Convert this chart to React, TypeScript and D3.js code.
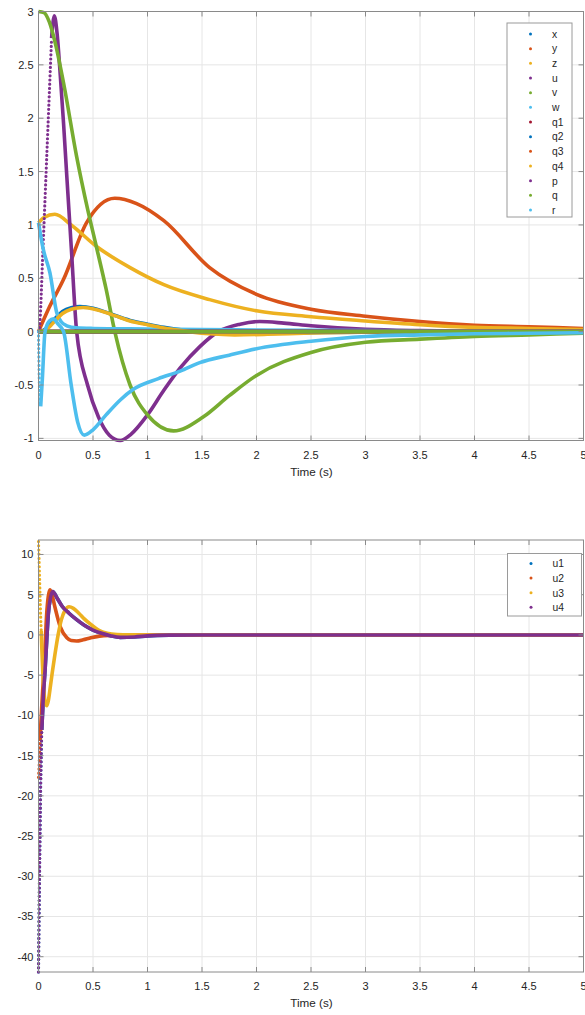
import * as d3 from "d3";

// ---------- tick values ----------
const timeTicks = [0, 0.5, 1, 1.5, 2, 2.5, 3, 3.5, 4, 4.5, 5];
const stateTicks = [-1, -0.5, 0, 0.5, 1, 1.5, 2, 2.5, 3];
const inputTicks = [-40, -35, -30, -25, -20, -15, -10, -5, 0, 5, 10];

// ---------- top panel: states ----------
const xT = [0, 0.05, 0.1, 0.15, 0.22, 0.3, 0.38, 0.5, 0.65, 0.84, 1.0, 1.15, 1.35, 1.57, 1.8, 2.2, 2.6, 3, 4, 5];
const xV = [0, 0.015, 0.06, 0.12, 0.19, 0.225, 0.235, 0.22, 0.17, 0.105, 0.07, 0.04, 0.01, -0.015, -0.02, -0.015, -0.008, -0.004, 0, 0];

const yT = [0, 0.1, 0.23, 0.44, 0.7, 0.9, 1.15, 1.57, 2, 2.5, 3, 3.5, 4, 4.5, 5];
const yV = [0, 0.23, 0.49, 1.02, 1.25, 1.2, 1.04, 0.6, 0.35, 0.21, 0.145, 0.095, 0.06, 0.045, 0.03];

const zT = [0, 0.05, 0.15, 0.3, 0.53, 0.84, 1.15, 1.57, 2, 2.5, 3, 3.5, 4, 4.5, 5];
const zV = [1.02, 1.07, 1.1, 1.0, 0.8, 0.6, 0.44, 0.3, 0.195, 0.14, 0.1, 0.065, 0.04, 0.03, 0.02];

const uT = [0, 0.01, 0.04, 0.08, 0.12, 0.145, 0.17, 0.2, 0.23, 0.26, 0.3, 0.35, 0.45, 0.55, 0.65, 0.75, 0.85, 1.0, 1.15, 1.3, 1.48, 1.65, 1.85, 2.03, 2.25, 2.5, 3, 3.5, 4, 5];
const uV = [0, 0.05, 0.75, 1.75, 2.75, 2.96, 2.8, 2.4, 1.95, 1.45, 0.8, 0.0, -0.5, -0.8, -0.97, -1.02, -0.96, -0.78, -0.55, -0.34, -0.14, 0.0, 0.07, 0.095, 0.08, 0.055, 0.022, 0.01, 0.005, 0];

const vT = [0, 0.05, 0.1, 0.15, 0.23, 0.35, 0.45, 0.53, 0.62, 0.7, 0.84, 1.0, 1.24, 1.51, 1.75, 2.0, 2.5, 3, 3.5, 4, 4.5, 5];
const vV = [3.0, 2.99, 2.9, 2.72, 2.33, 1.64, 1.15, 0.8, 0.4, 0, -0.5, -0.78, -0.93, -0.8, -0.6, -0.41, -0.195, -0.1, -0.07, -0.045, -0.03, -0.015];

const wT = [0, 0.044, 0.105, 0.167, 0.21, 0.26, 0.35, 0.5, 1, 1.5, 2, 3, 4, 5];
const wV = [1.02, 0.77, 0.55, 0.18, 0.09, 0.055, 0.035, 0.03, 0.025, 0.02, 0.015, 0.01, 0.005, 0];

const q1T = [0, 5];
const q1V = [0, 0];
const q2T = [0, 5];
const q2V = [0, 0];
const q3T = [0, 5];
const q3V = [0, 0];

const q4T = [0, 0.05, 0.1, 0.15, 0.22, 0.3, 0.41, 0.55, 0.7, 0.84, 1.0, 1.15, 1.35, 1.57, 1.8, 2.1, 2.5, 3, 4, 5];
const q4V = [0, 0.01, 0.045, 0.1, 0.17, 0.21, 0.226, 0.2, 0.15, 0.1, 0.065, 0.035, 0.005, -0.02, -0.03, -0.025, -0.012, -0.005, 0, 0];

const pT = [0, 5];
const pV = [0, 0];
const qT = [0, 5];
const qV = [0, 0];

const rT = [0, 0.005, 0.012, 0.02, 0.035, 0.06, 0.1, 0.136, 0.18, 0.23, 0.3, 0.36, 0.42, 0.5, 0.62, 0.75, 0.87, 1.1, 1.3, 1.48, 1.75, 2.0, 2.5, 3, 3.5, 4, 4.5, 5];
const rV = [0, -0.35, -0.6, -0.7, -0.45, 0, 0.1, 0.12, 0.07, 0, -0.5, -0.85, -0.97, -0.92, -0.78, -0.64, -0.54, -0.44, -0.37, -0.29, -0.22, -0.16, -0.09, -0.045, -0.03, -0.02, -0.015, -0.01];

// ---------- bottom panel: inputs ----------
const u1T = [0, 0.003, 0.006, 0.01, 0.015, 0.02, 0.025, 0.03, 0.045, 0.06, 0.075, 0.09, 0.11, 0.13, 0.17, 0.22, 0.28, 0.35, 0.42, 0.5, 0.58, 0.66, 0.75, 0.88, 1.0, 1.2, 1.5, 5];
const u1V = [-41.9, -38, -34, -29, -23.5, -18.5, -14.8, -11.8, -7.5, -4.4, -0.8, 2.6, 4.6, 5.4, 4.6, 3.5, 2.7, 1.9, 1.2, 0.6, 0.2, -0.1, -0.3, -0.25, -0.12, -0.03, 0, 0];

const u2T = [0, 0.005, 0.01, 0.015, 0.02, 0.03, 0.044, 0.06, 0.075, 0.09, 0.105, 0.12, 0.15, 0.2, 0.26, 0.3, 0.35, 0.41, 0.48, 0.56, 0.65, 0.8, 1.0, 5];
const u2V = [-17.7, -16.5, -14.5, -13, -11.5, -8.8, -5.6, -1.5, 2.6, 4.8, 5.6, 5.2, 3.5, 1.0, -0.35, -0.7, -0.75, -0.6, -0.35, -0.15, -0.05, 0, 0, 0];

const u3T = [0, 0.005, 0.01, 0.015, 0.02, 0.025, 0.03, 0.04, 0.05, 0.06, 0.075, 0.09, 0.105, 0.125, 0.15, 0.18, 0.21, 0.245, 0.28, 0.32, 0.37, 0.42, 0.48, 0.55, 0.63, 0.72, 0.85, 1.0, 1.5, 5];
const u3V = [11.6, 9.5, 7, 4.5, 2.2, 0.5, -1.5, -4.8, -7, -8.3, -8.8, -8.2, -6.8, -4.8, -2.5, 0, 1.9, 3.1, 3.5, 3.3, 2.7, 2.0, 1.3, 0.6, 0.2, 0.05, 0.01, 0, 0, 0];

const u4T = [0, 0.003, 0.006, 0.01, 0.015, 0.02, 0.025, 0.03, 0.045, 0.06, 0.075, 0.09, 0.11, 0.13, 0.17, 0.22, 0.28, 0.35, 0.42, 0.5, 0.58, 0.66, 0.75, 0.88, 1.0, 1.2, 1.5, 5];
const u4V = [-41.9, -38, -34, -29, -23.5, -18.5, -14.8, -11.8, -7.5, -4.4, -0.8, 2.6, 4.6, 5.4, 4.6, 3.5, 2.7, 1.9, 1.2, 0.6, 0.2, -0.1, -0.3, -0.25, -0.12, -0.03, 0, 0];

const C = {
  blue: "#0072BD",
  orange: "#D95319",
  yellow: "#EDB120",
  purple: "#7E2F8E",
  green: "#77AC30",
  cyan: "#4DBEEE",
  red: "#A2142F",
};

type Series = { name: string; color: string; t: number[]; v: number[]; dotTo?: number };

const stateSeries: Series[] = [
  { name: "x", color: C.blue, t: xT, v: xV },
  { name: "y", color: C.orange, t: yT, v: yV },
  { name: "z", color: C.yellow, t: zT, v: zV },
  { name: "u", color: C.purple, t: uT, v: uV, dotTo: 0.12 },
  { name: "v", color: C.green, t: vT, v: vV },
  { name: "w", color: C.cyan, t: wT, v: wV },
  { name: "q1", color: C.red, t: q1T, v: q1V },
  { name: "q2", color: C.blue, t: q2T, v: q2V },
  { name: "q3", color: C.orange, t: q3T, v: q3V },
  { name: "q4", color: C.yellow, t: q4T, v: q4V },
  { name: "p", color: C.purple, t: pT, v: pV },
  { name: "q", color: C.green, t: qT, v: qV },
  { name: "r", color: C.cyan, t: rT, v: rV, dotTo: 0.02 },
];

const inputSeries: Series[] = [
  { name: "u1", color: C.blue, t: u1T, v: u1V, dotTo: 0.03 },
  { name: "u2", color: C.orange, t: u2T, v: u2V, dotTo: 0.015 },
  { name: "u3", color: C.yellow, t: u3T, v: u3V, dotTo: 0.025 },
  { name: "u4", color: C.purple, t: u4T, v: u4V, dotTo: 0.03 },
];

const LEFT = 38.5;
const RIGHT = 583.5;
const AXIS = "#8a8a8a";
const GRID = "#e6e6e6";
const FONT = "'Liberation Sans', Arial, Helvetica, sans-serif";

function Panel({ top, bottom, domain, yTicks, series, legend }: {
  top: number; bottom: number; domain: [number, number]; yTicks: number[]; series: Series[];
  legend: { x0: number; x1: number; y0: number; y1: number; first: number; step: number };
}) {
  const x = d3.scaleLinear().domain([0, 5]).range([LEFT, RIGHT]);
  const y = d3.scaleLinear().domain(domain).range([bottom, top]);
  const line = d3.line<[number, number]>()
    .x((d) => x(d[0]))
    .y((d) => y(d[1]))
    .curve(d3.curveMonotoneX);

  return (
    <g>
      {/* grid */}
      {timeTicks.map((t) => (
        <line key={"gx" + t} x1={x(t)} x2={x(t)} y1={top} y2={bottom} stroke={GRID} />
      ))}
      {yTicks.map((v) => (
        <line key={"gy" + v} x1={LEFT} x2={RIGHT} y1={y(v)} y2={y(v)} stroke={GRID} />
      ))}

      {/* data: steep start drawn as separate dots, the rest looks solid */}
      {series.map((s) => {
        const pts = s.t.map((t, i) => [t, s.v[i]] as [number, number]);
        const cut = s.dotTo ?? -1;
        let k = 0;
        while (k + 1 < pts.length && pts[k + 1][0] <= cut) k++;
        const dotted = cut < 0 ? [] : pts.slice(0, k + 1);
        const solid = cut < 0 ? pts : pts.slice(k);
        return (
          <g key={s.name}>
            {dotted.length > 1 && (
              <path d={line(dotted) ?? ""} fill="none" stroke={s.color} strokeWidth={3.2}
                strokeLinecap="round" strokeDasharray="0 4.2" />
            )}
            <path d={line(solid) ?? ""} fill="none" stroke={s.color} strokeWidth={3.6}
              strokeLinejoin="round" />
          </g>
        );
      })}

      {/* box and ticks */}
      <rect x={LEFT} y={top} width={RIGHT - LEFT} height={bottom - top} fill="none" stroke={AXIS} strokeWidth={1} />
      {timeTicks.map((t) => (
        <g key={"tx" + t}>
          <line x1={x(t)} x2={x(t)} y1={bottom} y2={bottom - 5} stroke={AXIS} />
          <line x1={x(t)} x2={x(t)} y1={top} y2={top + 5} stroke={AXIS} />
          <text x={x(t)} y={bottom + 18} textAnchor="middle" fontSize={11} fill="#262626" fontFamily={FONT}>
            {String(t)}
          </text>
        </g>
      ))}
      {yTicks.map((v) => (
        <g key={"ty" + v}>
          <line x1={LEFT} x2={LEFT + 5} y1={y(v)} y2={y(v)} stroke={AXIS} />
          <line x1={RIGHT} x2={RIGHT - 5} y1={y(v)} y2={y(v)} stroke={AXIS} />
          <text x={33.5} y={y(v) + 4} textAnchor="end" fontSize={11} fill="#262626" fontFamily={FONT}>
            {String(v)}
          </text>
        </g>
      ))}
      <text x={(LEFT + RIGHT) / 2 + 0.5} y={bottom + 35} textAnchor="middle" fontSize={11.7} fill="#262626" fontFamily={FONT}>
        Time (s)
      </text>

      {/* legend */}
      <rect x={legend.x0} y={legend.y0} width={legend.x1 - legend.x0} height={legend.y1 - legend.y0}
        fill="#fff" stroke="#9a9a9a" strokeWidth={1} />
      {series.map((s, i) => {
        const cy = legend.first + i * legend.step;
        return (
          <g key={"lg" + s.name}>
            <circle cx={legend.x0 + 23.5} cy={cy} r={1.5} fill={s.color} />
            <text x={legend.x0 + 45} y={cy + 3.8} fontSize={10.3} fill="#262626" fontFamily={FONT}>
              {s.name}
            </text>
          </g>
        );
      })}
    </g>
  );
}

export default function App() {
  return (
    <svg width={585} height={1015} style={{ position: "absolute", left: 0, top: 0, background: "#fff" }}>
      <rect width={585} height={1015} fill="#fff" />
      <Panel top={11.5} bottom={440.5} domain={[-1.02, 3]} yTicks={stateTicks} series={stateSeries}
        legend={{ x0: 507, x1: 572, y0: 23, y1: 217, first: 34, step: 14.67 }} />
      <Panel top={540} bottom={972} domain={[-41.9, 11.8]} yTicks={inputTicks} series={inputSeries}
        legend={{ x0: 507.5, x1: 581.5, y0: 553.5, y1: 616, first: 563.5, step: 14.6 }} />
    </svg>
  );
}
